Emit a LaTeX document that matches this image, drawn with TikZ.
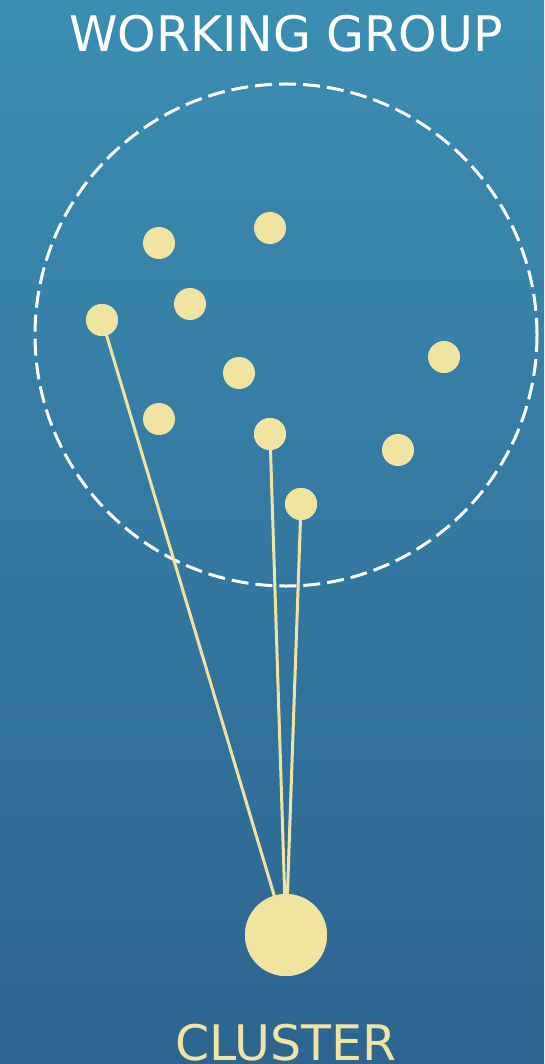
\documentclass[tikz,border=0pt]{standalone}
\usepackage{fontspec}
\setmainfont{DejaVu Sans}
\definecolor{bgtop}{RGB}{59,141,178}
\definecolor{bgbot}{RGB}{45,101,144}
\definecolor{dotc}{RGB}{241,227,160}
\begin{document}
\begin{tikzpicture}[x=1pt,y=-1pt,
  member/.style={circle,fill=dotc,inner sep=0pt,minimum size=32pt},
  link/.style={draw=dotc,line width=3pt},
  lbl/.style={font=\fontsize{49}{52}\selectfont,anchor=base,inner sep=0pt}]
\useasboundingbox (0,0) rectangle (544,1064);
\shade[top color=bgtop,bottom color=bgbot] (0,0) rectangle (544,1064);
\node[lbl,text=white] (title) at (286,52) {WORKING GROUP};
\draw[white,line width=3pt,dash pattern=on 17pt off 7pt] (286,335) circle (251);
\node[member] (d1) at (159,243) {};
\node[member] (d2) at (270,228) {};
\node[member] (d3) at (102,320) {};
\node[member] (d4) at (190,304) {};
\node[member] (d5) at (239,373) {};
\node[member] (d6) at (444,357) {};
\node[member] (d7) at (159,419) {};
\node[member] (d8) at (270,434) {};
\node[member] (d9) at (398,450) {};
\node[member] (d10) at (301,504) {};
\node[circle,fill=dotc,inner sep=0pt,minimum size=82pt] (cl) at (286,935) {};
\draw[link] (d3.center) -- (cl.center);
\draw[link] (d8.center) -- (cl.center);
\draw[link] (d10.center) -- (cl.center);
\fill[dotc] (cl) circle (41);
\node[member] at (d3) {};
\node[member] at (d8) {};
\node[member] at (d10) {};
\node[lbl,text=dotc] (clusterlbl) at (286,1060) {CLUSTER};
\end{tikzpicture}
\end{document}
